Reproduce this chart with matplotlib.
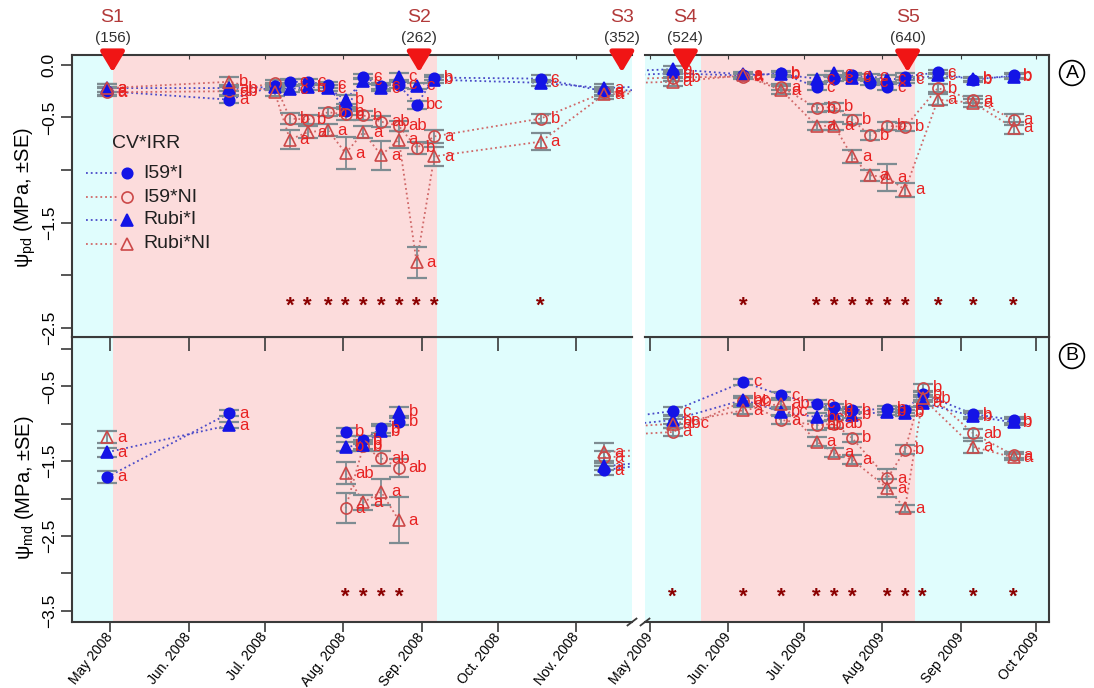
import numpy as np
import pandas as pd
import matplotlib
matplotlib.use("Agg")
import matplotlib.pyplot as plt
import matplotlib.dates as mdates
from matplotlib.transforms import blended_transform_factory

plt.rcParams['font.family'] = ['Liberation Sans', 'DejaVu Sans']
plt.rcParams['mathtext.fontset'] = 'custom'
plt.rcParams['mathtext.rm'] = 'Liberation Sans'
plt.rcParams['mathtext.it'] = 'Liberation Sans:italic'

nan = np.nan
W, H = 1094, 688

# ---------------- predawn water potential (psi_pd) ----------------
pd_dates = pd.to_datetime([
    "2008-04-30", "2008-06-17", "2008-07-05", "2008-07-11", "2008-07-18",
    "2008-07-26", "2008-08-02", "2008-08-09", "2008-08-16", "2008-08-23",
    "2008-08-30", "2008-09-06", "2008-10-18", "2008-11-12",
    "2009-05-10", "2009-06-07", "2009-06-22", "2009-07-06", "2009-07-13",
    "2009-07-20", "2009-07-27", "2009-08-03", "2009-08-10", "2009-08-23",
    "2009-09-06", "2009-09-22"])
pd_i59_i = [-0.25, -0.33, -0.20, -0.16, -0.16, -0.19, -0.44, -0.11, -0.20, -0.19, -0.38, -0.12, -0.13,
            -0.25, -0.08, -0.10, -0.08, -0.21, -0.13, -0.10, -0.17, -0.21, -0.11, -0.07, -0.14, -0.10]
pd_i59_ni = [-0.26, -0.25, -0.17, -0.51, -0.52, -0.45, -0.47, -0.48, -0.54, -0.58, -0.79, -0.68, -0.51,
             -0.26, -0.12, -0.11, -0.21, -0.41, -0.40, -0.52, -0.67, -0.58, -0.59, -0.22, -0.33, -0.52]
pd_rubi_i = [-0.22, -0.22, -0.21, -0.23, -0.21, -0.22, -0.33, -0.15, -0.22, -0.11, -0.20, -0.14, -0.17,
             -0.22, -0.04, -0.09, -0.09, -0.13, -0.08, -0.12, -0.11, -0.13, -0.14, -0.10, -0.13, -0.11]
pd_rubi_ni = [-0.22, -0.16, -0.26, -0.71, -0.64, -0.62, -0.84, -0.64, -0.86, -0.71, -1.88, -0.87, -0.73,
              -0.28, -0.16, -0.10, -0.24, -0.58, -0.58, -0.87, -1.05, -1.07, -1.19, -0.33, -0.36, -0.60]

pd_se_i59_i = [0.04, 0.03, 0.03, 0.03, 0.03, 0.03, 0.04, 0.02, 0.03, 0.03, 0.04, 0.02, 0.03,
               0.04, 0.03, 0.02, 0.02, 0.03, 0.02, 0.02, 0.02, 0.03, 0.03, 0.02, 0.02, 0.02]
pd_se_i59_ni = [0.04, 0.04, 0.03, 0.05, 0.04, 0.04, 0.05, 0.04, 0.05, 0.05, 0.06, 0.06, 0.04,
                0.04, 0.03, 0.02, 0.03, 0.04, 0.04, 0.04, 0.04, 0.04, 0.04, 0.04, 0.03, 0.05]
pd_se_rubi_i = [0.04, 0.03, 0.03, 0.03, 0.03, 0.03, 0.04, 0.03, 0.03, 0.03, 0.03, 0.03, 0.03,
                0.04, 0.03, 0.02, 0.02, 0.03, 0.02, 0.02, 0.02, 0.03, 0.03, 0.02, 0.02, 0.02]
pd_se_rubi_ni = [0.04, 0.05, 0.04, 0.09, 0.06, 0.06, 0.15, 0.06, 0.14, 0.08, 0.15, 0.09, 0.08,
                 0.04, 0.04, 0.02, 0.04, 0.04, 0.04, 0.06, 0.05, 0.13, 0.07, 0.05, 0.04, 0.06]

pd_let_i59_i = ["a", "a", "", "c", "c", "c", "b", "c", "c", "c", "bc", "b", "c",
                "a", "b", "a", "b", "c", "c", "c", "c", "c", "c", "c", "b", "b"]
pd_let_i59_ni = ["a", "ab", "", "b", "b", "b", "b", "b", "ab", "ab", "b", "a", "b",
                 "a", "ab", "a", "a", "b", "b", "b", "b", "b", "b", "b", "a", "a"]
pd_let_rubi_i = ["a", "ab", "", "c", "b", "c", "b", "c", "c", "c", "c", "b", "c",
                 "a", "b", "a", "b", "c", "c", "c", "c", "c", "c", "c", "b", "b"]
pd_let_rubi_ni = ["a", "b", "", "a", "a", "a", "a", "a", "a", "a", "a", "a", "a",
                  "a", "a", "a", "a", "a", "a", "a", "a", "a", "a", "a", "a", "a"]

# ---------------- midday water potential (psi_md) ----------------
md_dates = pd.to_datetime([
    "2008-04-30", "2008-06-17", "2008-08-02", "2008-08-09", "2008-08-16", "2008-08-23",
    "2008-11-12", "2009-05-10", "2009-06-07", "2009-06-22", "2009-07-06", "2009-07-13",
    "2009-07-20", "2009-08-03", "2009-08-10", "2009-08-17", "2009-09-06", "2009-09-22"])
md_run = [0, 0, 1, 1, 1, 1, 2, 2, 2, 2, 2, 2, 2, 2, 2, 2, 2, 2]
md_i59_i = [-1.71, -0.86, -1.11, -1.22, -1.06, -0.97, -1.62, -0.83, -0.44, -0.62, -0.73, -0.78,
            -0.82, -0.80, -0.82, -0.60, -0.87, -0.95]
md_i59_ni = [nan, nan, -2.13, -1.30, -1.46, -1.59, -1.45, -1.11, -0.70, -0.95, -1.02, -1.00,
             -1.19, -1.73, -1.35, -0.52, -1.13, -1.42]
md_rubi_i = [-1.38, -1.02, -1.31, -1.28, -1.10, -0.84, -1.57, -0.95, -0.68, -0.84, -0.91, -0.85,
             -0.88, -0.84, -0.85, -0.72, -0.90, -0.98]
md_rubi_ni = [-1.18, nan, -1.66, -2.05, -1.91, -2.29, -1.38, -1.00, -0.82, -0.73, -1.24, -1.39,
              -1.48, -1.86, -2.13, -0.66, -1.31, -1.45]

md_se_i59_i = [0.08, 0.04, 0.05, 0.05, 0.06, 0.05, 0.06, 0.05, 0.04, 0.04, 0.05, 0.04,
               0.04, 0.04, 0.04, 0.04, 0.04, 0.04]
md_se_i59_ni = [nan, nan, 0.20, 0.06, 0.10, 0.12, 0.08, 0.06, 0.05, 0.05, 0.06, 0.05,
                0.05, 0.13, 0.06, 0.05, 0.06, 0.04]
md_se_rubi_i = [0.06, 0.04, 0.06, 0.06, 0.07, 0.06, 0.05, 0.05, 0.05, 0.04, 0.05, 0.05,
                0.04, 0.04, 0.04, 0.04, 0.04, 0.04]
md_se_rubi_ni = [0.08, nan, 0.15, 0.10, 0.17, 0.31, 0.12, 0.06, 0.05, 0.05, 0.06, 0.06,
                 0.06, 0.12, 0.05, 0.05, 0.08, 0.04]

md_let_i59_i = ["a", "a", "b", "b", "b", "b", "a", "c", "c", "c", "c", "b", "b", "b", "b", "b", "b", "b"]
md_let_i59_ni = ["", "", "a", "b", "ab", "ab", "a", "a", "ab", "a", "ab", "ab", "b", "a", "b", "b", "ab", "a"]
md_let_rubi_i = ["a", "a", "b", "b", "b", "b", "a", "bc", "bc", "bc", "bc", "b", "b", "b", "b", "a", "b", "b"]
md_let_rubi_ni = ["a", "", "ab", "a", "a", "a", "a", "abc", "a", "ab", "a", "a", "a", "a", "a", "ab", "a", "a"]

# dates with a significant CV*IRR effect
sig_pd = pd.to_datetime([
    "2008-07-11", "2008-07-18", "2008-07-26", "2008-08-02", "2008-08-09", "2008-08-16",
    "2008-08-23", "2008-08-30", "2008-09-06", "2008-10-18",
    "2009-06-07", "2009-07-06", "2009-07-13", "2009-07-20", "2009-07-27", "2009-08-03",
    "2009-08-10", "2009-08-23", "2009-09-06", "2009-09-22"])
sig_md = pd.to_datetime([
    "2008-08-02", "2008-08-09", "2008-08-16", "2008-08-23",
    "2009-05-10", "2009-06-07", "2009-06-22", "2009-07-06", "2009-07-13", "2009-07-20",
    "2009-08-03", "2009-08-10", "2009-08-17", "2009-09-06", "2009-09-22"])

# sampling events and irrigation periods
s_labels = ["S1", "S2", "S3", "S4", "S5"]
s_days = ["(156)", "(262)", "(352)", "(524)", "(640)"]
s_dates = pd.to_datetime(["2008-05-02", "2008-08-31", "2008-11-19", "2009-05-15", "2009-08-11"])
irr_start = pd.to_datetime(["2008-05-02", "2009-05-21"])
irr_end = pd.to_datetime(["2008-09-07", "2009-08-14"])

tick_dates_08 = pd.to_datetime(["2008-05-01", "2008-06-01", "2008-07-01", "2008-08-01",
                                "2008-09-01", "2008-10-01", "2008-11-01"])
tick_labels_08 = ["May 2008", "Jun. 2008", "Jul. 2008", "Aug. 2008", "Sep. 2008", "Oct. 2008", "Nov. 2008"]
tick_dates_09 = pd.to_datetime(["2009-05-01", "2009-06-01", "2009-07-01", "2009-08-01",
                                "2009-09-01", "2009-10-01"])
tick_labels_09 = ["May 2009", "Jun. 2009", "Jul. 2009", "Aug 2009", "Sep 2009", "Oct 2009"]

CYAN = '#E0FDFD'
PINK = '#FCDCDC'
BLUE = '#1414E6'
RED_M = '#CC4848'
LET = '#E82222'
BAR = '#7E8C92'
SPINE = '#3A3A3A'

styles = {
    "I59*I": dict(marker='o', ms=7.5, mfc=BLUE, mec=BLUE, line='#4A4AC8'),
    "I59*NI": dict(marker='o', ms=8, mfc='none', mec=RED_M, line='#D06868'),
    "Rubi*I": dict(marker='^', ms=8, mfc=BLUE, mec=BLUE, line='#4A4AC8'),
    "Rubi*NI": dict(marker='^', ms=9, mfc='none', mec=RED_M, line='#D06868'),
}


def px(x):
    return x / W


def py(y):
    return 1 - y / H


fig = plt.figure(figsize=(W / 100, H / 100), dpi=100)
xl0, xl1, xr0, xr1 = px(72), px(632), px(645), px(1049)
ya0, ya1, yb0, yb1 = py(337), py(55), py(622), py(337)

axA = [fig.add_axes([xl0, ya0, xl1 - xl0, ya1 - ya0]),
       fig.add_axes([xr0, ya0, xr1 - xr0, ya1 - ya0])]
axB = [fig.add_axes([xl0, yb0, xl1 - xl0, yb1 - yb0]),
       fig.add_axes([xr0, yb0, xr1 - xr0, yb1 - yb0])]
for ax in axA:
    ax.set_zorder(3)

xlims = [(pd.Timestamp("2008-04-16"), pd.Timestamp("2008-11-23")),
         (pd.Timestamp("2009-04-29"), pd.Timestamp("2009-10-06"))]

for row, ylim in ((axA, (-2.59, 0.095)), (axB, (-3.65, 0.16))):
    for i, ax in enumerate(row):
        ax.set_facecolor(CYAN)
        ax.axvspan(irr_start[i], irr_end[i], color=PINK, lw=0, zorder=0)
        ax.set_xlim(*xlims[i])
        ax.set_ylim(*ylim)
        for s in ax.spines.values():
            s.set_color(SPINE)
            s.set_linewidth(1.5)
        ax.spines['right' if i == 0 else 'left'].set_visible(False)
        ticks, labels = (tick_dates_08, tick_labels_08) if i == 0 else (tick_dates_09, tick_labels_09)
        ax.set_xticks(ticks)
        if row is axB:
            ax.set_xticklabels(labels, rotation=52, ha='right', va='center',
                               rotation_mode='anchor', fontsize=10)
            ax.tick_params(axis='x', direction='out', length=7, width=1.2, color=SPINE, pad=2)
        else:
            ax.set_xticklabels([])
            ax.tick_params(axis='x', direction='out', length=10, width=1.2, color=SPINE)
            top = ax.secondary_xaxis('top')
            top.set_xticks(ticks)
            top.set_xticklabels([])
            top.tick_params(direction='in', length=3, color=SPINE)
            top.spines['top'].set_visible(False)
        if i == 1:
            ax.set_yticks([])

axA[0].set_yticks([0, -0.5, -1.0, -1.5, -2.0, -2.5])
axA[0].set_yticklabels(['0.0', '\u22120.5', '', '\u22121.5', '', '\u22122.5'],
                       rotation=90, va='center', fontsize=12.5)
axB[0].set_yticks([0, -0.5, -1.0, -1.5, -2.0, -2.5, -3.0, -3.5])
axB[0].set_yticklabels(['', '\u22120.5', '', '\u22121.5', '', '\u22122.5', '', '\u22123.5'],
                       rotation=90, va='center', fontsize=12.5)
for ax in (axA[0], axB[0]):
    ax.tick_params(axis='y', direction='out', length=8, width=1.2, color=SPINE, pad=3)


def draw_series(axes, dates, vals, se, letters, name, runs=None):
    st = styles[name]
    vals = np.asarray(vals, dtype=float)
    se = np.asarray(se, dtype=float)
    runs = np.zeros(len(vals), dtype=int) if runs is None else np.asarray(runs)
    for ax in axes:
        for r in np.unique(runs):
            m = (runs == r) & ~np.isnan(vals)
            ax.plot(dates[m], vals[m], ls=':', color=st['line'], lw=1.3, zorder=2)
        ax.errorbar(dates, vals, yerr=se, fmt='none', ecolor=BAR, elinewidth=1.3,
                    capsize=7, capthick=1.6, zorder=3)
        ax.plot(dates, vals, ls='none', marker=st['marker'], ms=st['ms'], mfc=st['mfc'],
                mec=st['mec'], mew=1.2, zorder=4)
        for d, v, t in zip(dates, vals, letters):
            if t and not np.isnan(v):
                ax.annotate(t, (d, v), xytext=(7, 0), textcoords='offset points',
                            ha='left', va='center', color=LET, fontsize=12, zorder=5)


for name, v, se, let in (("I59*I", pd_i59_i, pd_se_i59_i, pd_let_i59_i),
                         ("I59*NI", pd_i59_ni, pd_se_i59_ni, pd_let_i59_ni),
                         ("Rubi*I", pd_rubi_i, pd_se_rubi_i, pd_let_rubi_i),
                         ("Rubi*NI", pd_rubi_ni, pd_se_rubi_ni, pd_let_rubi_ni)):
    draw_series(axA, pd_dates, v, se, let, name)

for name, v, se, let in (("I59*I", md_i59_i, md_se_i59_i, md_let_i59_i),
                         ("I59*NI", md_i59_ni, md_se_i59_ni, md_let_i59_ni),
                         ("Rubi*I", md_rubi_i, md_se_rubi_i, md_let_rubi_i),
                         ("Rubi*NI", md_rubi_ni, md_se_rubi_ni, md_let_rubi_ni)):
    draw_series(axB, md_dates, v, se, let, name, runs=md_run)

# significance stars
for d in sig_pd:
    ax = axA[0] if d.year == 2008 else axA[1]
    ax.text(d, -2.30, '*', color='#8B0000', ha='center', va='center', fontsize=16,
            fontweight='bold', zorder=5)
for d in sig_md:
    ax = axB[0] if d.year == 2008 else axB[1]
    ax.text(d, -3.32, '*', color='#8B0000', ha='center', va='center', fontsize=16,
            fontweight='bold', zorder=5)

# sampling events: labels above panel A and red arrows on its top edge
for lab, day, d in zip(s_labels, s_days, s_dates):
    ax = axA[0] if d.year == 2008 else axA[1]
    tr = blended_transform_factory(ax.transData, fig.transFigure)
    xd = mdates.date2num(d)
    ax.text(xd, py(18), lab, transform=tr, ha='center', va='center', fontsize=14,
            color='#B23A3A', clip_on=False)
    ax.text(xd, py(38), day, transform=tr, ha='center', va='center', fontsize=11,
            color='#303030', clip_on=False)
    ax.annotate('', xy=(xd, py(75)), xycoords=tr, xytext=(xd, py(51)), textcoords=tr,
                arrowprops=dict(arrowstyle='-|>,head_width=0.6,head_length=1.0',
                                color='#F01515', lw=3.5, mutation_scale=12),
                annotation_clip=False, zorder=6)

# legend drawn in panel A
lg = axA[0]


def lx(x):
    return (x - 72) / 560


def ly(y):
    return (337 - y) / 282


lg.text(lx(112), ly(143), 'CV*IRR', transform=lg.transAxes, fontsize=14,
        ha='left', va='center', color='#202020')
for name, yy in zip(styles, (173, 197, 220, 244)):
    st = styles[name]
    lg.plot([lx(86), lx(119)], [ly(yy), ly(yy)], ls=':', color=st['line'], lw=1.3,
            transform=lg.transAxes)
    lg.plot([lx(127)], [ly(yy)], ls='none', marker=st['marker'], ms=st['ms'], mfc=st['mfc'],
            mec=st['mec'], mew=1.2, transform=lg.transAxes)
    lg.text(lx(143), ly(yy), name, transform=lg.transAxes, fontsize=14, ha='left',
            va='center', color='#202020')

# axis break marks
for ax, xpos, dx in ((axB[0], 1.0, 0.008), (axB[1], 0.0, 0.011)):
    ax.plot([xpos - dx, xpos + dx], [-0.012, 0.012], color=SPINE, lw=1.3,
            transform=ax.transAxes, clip_on=False)

fig.text(px(25), py(198), 'ψ$_{\\mathrm{pd}}$ (MPa, ±SE)', rotation=90, ha='center',
         va='center', fontsize=14.5)
fig.text(px(25), py(488), 'ψ$_{\\mathrm{md}}$ (MPa, ±SE)', rotation=90, ha='center',
         va='center', fontsize=14.5)

for lab, yy in (('A', 73), ('B', 356)):
    fig.text(px(1072), py(yy), lab, ha='center', va='center', fontsize=14,
             bbox=dict(boxstyle='circle,pad=0.2', fc='white', ec='black', lw=1.2))

fig.savefig('out.png', dpi=100)
